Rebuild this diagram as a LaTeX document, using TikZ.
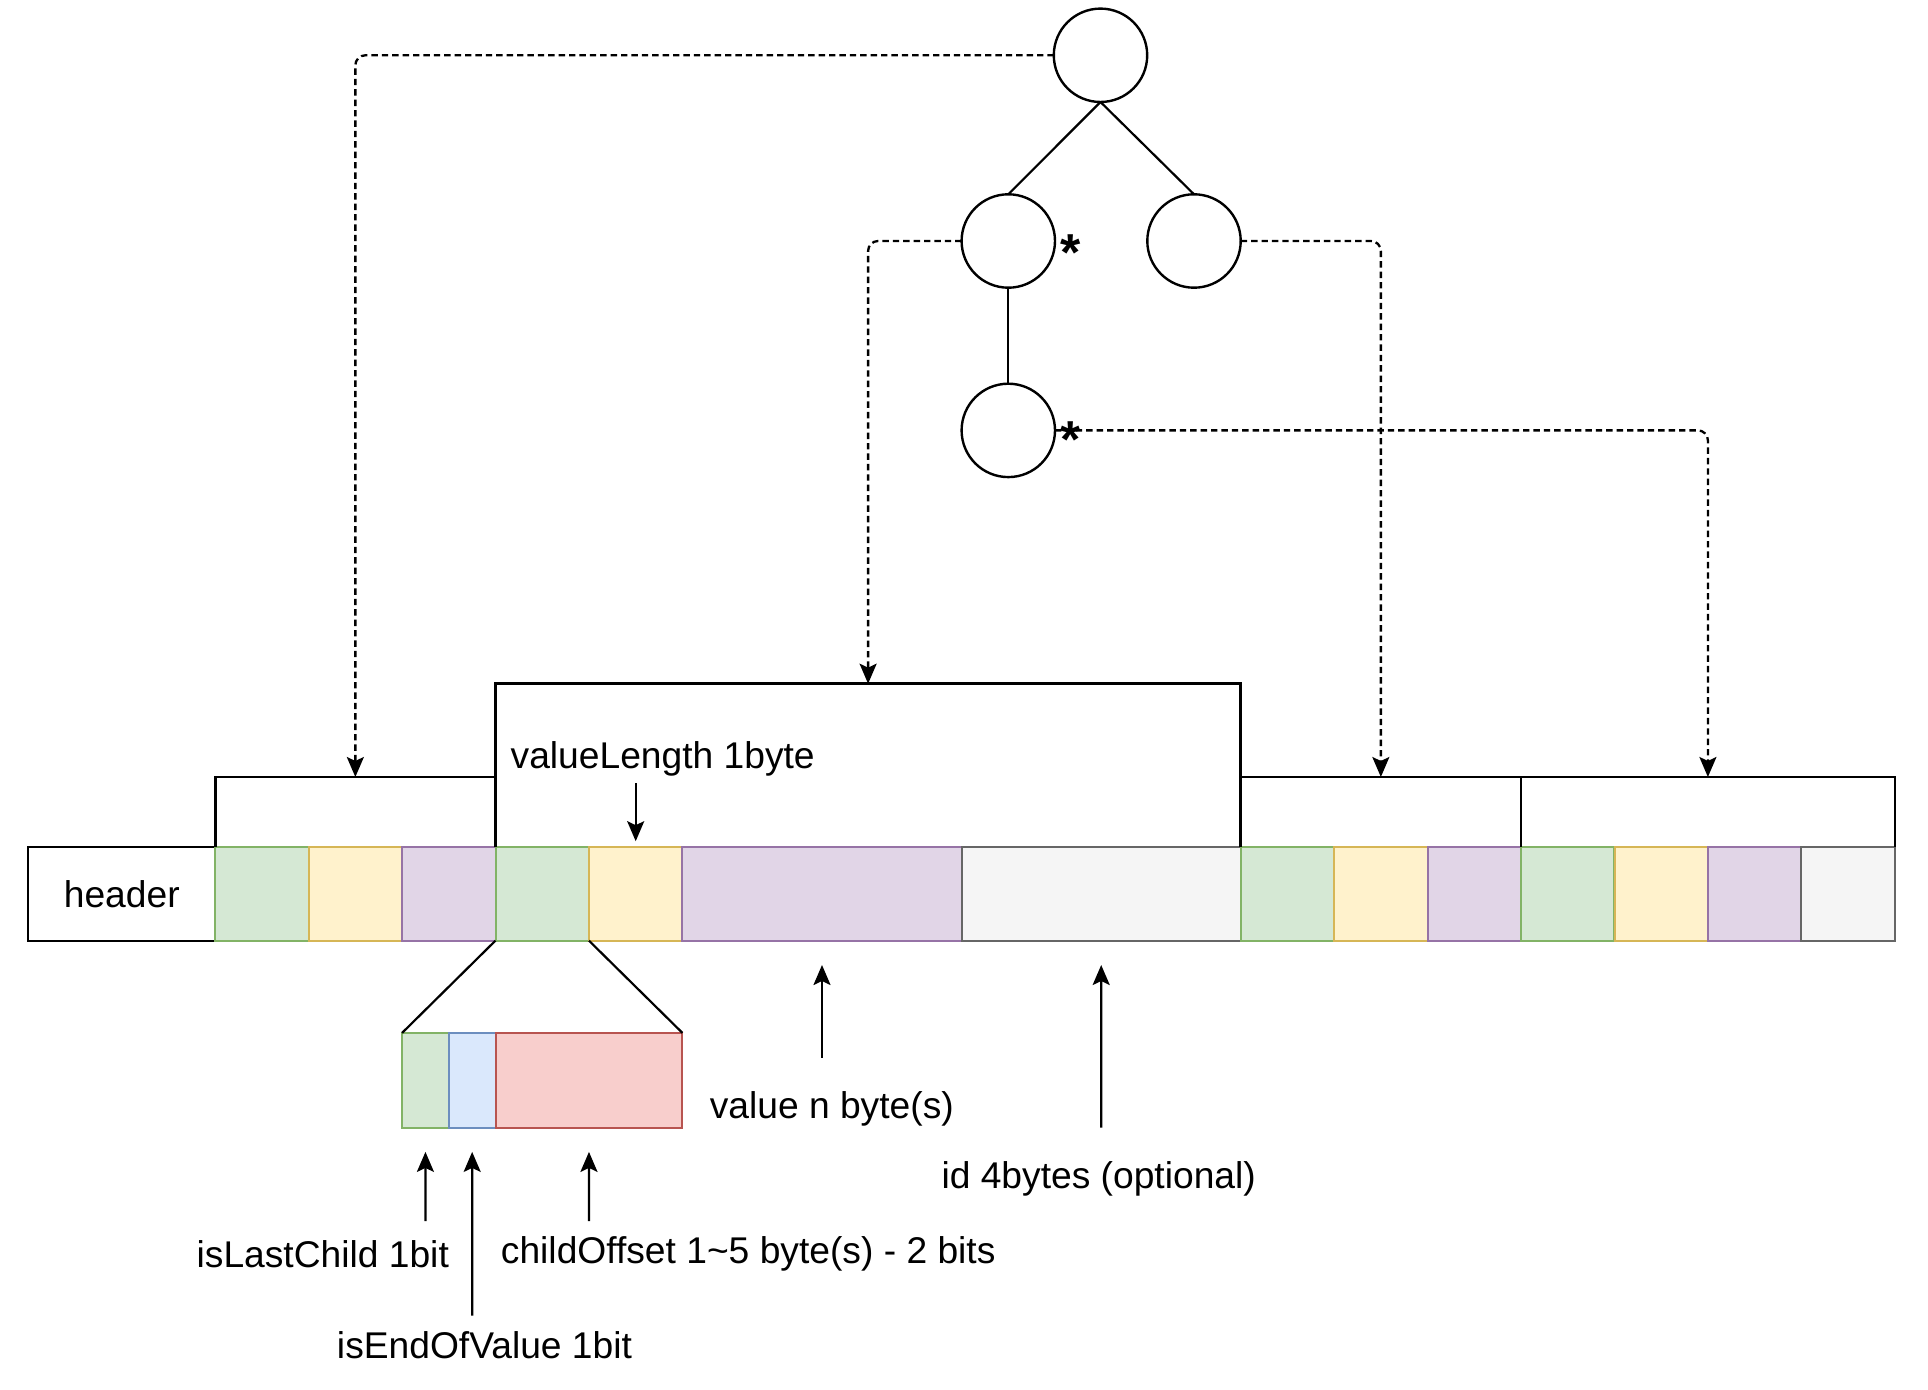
\documentclass[tikz,border=0pt]{standalone}
\usepackage{fontspec}
\setmainfont{Liberation Sans}
\usetikzlibrary{arrows.meta,calc}
\definecolor{gF}{HTML}{D5E8D4}\definecolor{gS}{HTML}{82B366}
\definecolor{yF}{HTML}{FFF2CC}\definecolor{yS}{HTML}{D6B656}
\definecolor{pF}{HTML}{E1D5E7}\definecolor{pS}{HTML}{9673A6}
\definecolor{hF}{HTML}{F5F5F5}\definecolor{hS}{HTML}{666666}
\definecolor{bF}{HTML}{DAE8FC}\definecolor{bS}{HTML}{6C8EBF}
\definecolor{rF}{HTML}{F8CECC}\definecolor{rS}{HTML}{B85450}
\begin{document}
\begin{tikzpicture}[x=0.5pt,y=-0.5pt,
  every node/.style={font=\fontsize{18.6pt}{22pt}\selectfont},
  cell/.style={draw, line width=1pt, inner sep=0pt, outer sep=0pt, minimum height=46.7pt, minimum width=46.7pt, anchor=north west},
  gcell/.style={cell, fill=gF, draw=gS},
  ycell/.style={cell, fill=yF, draw=yS},
  pcell/.style={cell, fill=pF, draw=pS},
  hcell/.style={cell, fill=hF, draw=hS},
  wide/.style={minimum width=139.6pt},
  circ/.style={circle, draw, line width=1.2pt, minimum size=46.7pt, inner sep=0pt, outer sep=0pt},
  bracket/.style={inner sep=0pt, outer sep=0pt, anchor=north west},
  bk/.style={line width=1.3pt},
  edge/.style={line width=1.1pt},
  arr/.style={line width=1.1pt, -{Stealth[length=10pt,width=8.5pt,inset=2pt]}},
  dsh/.style={line width=1.15pt, dash pattern=on 3.2pt off 2pt, rounded corners=5pt, -{Stealth[length=10pt,width=8.5pt,inset=2pt]}},
  lbl/.style={inner sep=0pt},
  star/.style={inner sep=0pt, font=\fontsize{26pt}{28pt}\selectfont\bfseries}
]
\useasboundingbox (0,0) rectangle (1928,1390);

% tree
\node[circ] (root) at (1100.5,55.3) {};
\node[circ] (lc) at (1008.3,241) {};
\node[circ] (rc) at (1194,241) {};
\node[circ] (bn) at (1008.3,430.4) {};
\draw[edge] (root.south) -- (lc.north);
\draw[edge] (root.south) -- (rc.north);
\draw[edge] (lc.south) -- (bn.north);
\node[star] (st1) at (1071,253) {*};
\node[star] (st2) at (1071,440) {*};

% bar
\node[cell, fill=white, draw=black, minimum width=93.45pt] (hd) at (28.3,847.2) {header};
\node[gcell] (c1) at (215.2,847.2) {};
\node[ycell] (c2) at (308.6,847.2) {};
\node[pcell] (c3) at (402.1,847.2) {};
\node[gcell] (c4) at (495.5,847.2) {};
\node[ycell] (c5) at (589,847.2) {};
\node[pcell, wide] (c6) at (682.4,847.2) {};
\node[hcell, wide] (c7) at (961.6,847.2) {};
\node[gcell] (c8) at (1240.7,847.2) {};
\node[ycell] (c9) at (1334.1,847.2) {};
\node[pcell] (c10) at (1427.6,847.2) {};
\node[gcell] (c11) at (1521,847.2) {};
\node[ycell] (c12) at (1614.5,847.2) {};
\node[pcell] (c13) at (1707.9,847.2) {};
\node[hcell] (c14) at (1801.4,847.2) {};

% brackets
\node[bracket, minimum width=140.15pt, minimum height=35.1pt] (br1) at (215.2,777) {};
\node[bracket, minimum width=372.6pt, minimum height=81.75pt] (br2) at (495.5,683.7) {};
\node[bracket, minimum width=140.15pt, minimum height=35.1pt] (br3) at (1240.7,777) {};
\node[bracket, minimum width=186.9pt, minimum height=35.1pt] (br4) at (1521,777) {};
\foreach \b in {br1,br2,br3,br4}
  \draw[bk] (\b.south west) |- (\b.north east) -- (\b.south east);

% dashed connectors
\draw[dsh] (root.west) -| (br1.north);
\draw[dsh] (lc.west) -| (br2.north);
\draw[dsh] (rc.east) -| (br3.north);
\draw[dsh] (bn.east) -| (br4.north);

% valueLength
\node[lbl, anchor=west] (vl) at (510.3,758.7) {valueLength 1byte};
\coordinate (vlt) at (635.7,783);
\draw[arr, shorten >=3pt] (vlt) -- (c5.north);

% zoomed cell
\node[gcell, minimum width=23.35pt, minimum height=47.3pt] (sg) at (402.1,1032.9) {};
\node[cell, fill=bF, draw=bS, minimum width=23.35pt, minimum height=47.3pt] (sb) at (448.8,1032.9) {};
\node[cell, fill=rF, draw=rS, minimum width=93.45pt, minimum height=47.3pt] (sr) at (495.5,1032.9) {};
\draw[edge] (c4.south west) -- (sg.north west);
\draw[edge] (c4.south east) -- (sr.north east);

% bottom arrows
\coordinate (t1) at (425.4,1221);
\coordinate (t2) at (472.2,1315.7);
\coordinate (t3) at (589,1221);
\coordinate (t4) at (822,1057.5);
\coordinate (t5) at (1101.2,1127.5);
\draw[arr, shorten >=12.2pt] (t1) -- (sg.south);
\draw[arr, shorten >=12.2pt] (t2) -- (sb.south);
\draw[arr, shorten >=12.2pt] (t3) -- (sr.south);
\draw[arr, shorten >=12.2pt] (t4) -- (c6.south);
\draw[arr, shorten >=12.2pt] (t5) -- (c7.south);

% labels
\node[lbl] (lv) at (831.8,1109.1) {value n byte(s)};
\node[lbl] (lid) at (1098.7,1179.2) {id 4bytes (optional)};
\node[lbl] (llc) at (322.8,1254.2) {isLastChild 1bit};
\node[lbl] (lco) at (748.2,1254.2) {childOffset 1\textasciitilde5 byte(s) - 2 bits};
\node[lbl] (lev) at (484.5,1345.2) {isEndOfValue 1bit};
\end{tikzpicture}
\end{document}
